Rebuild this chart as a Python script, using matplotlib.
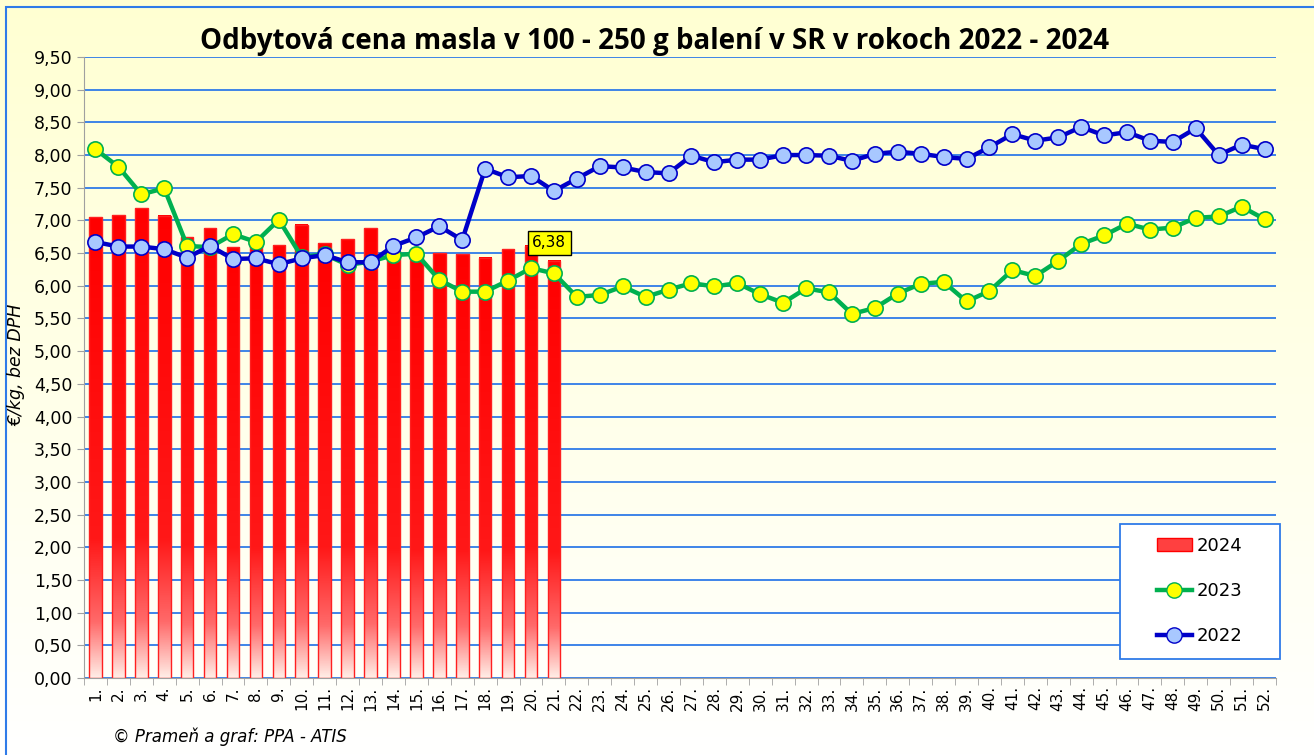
import matplotlib
matplotlib.use("Agg")
import matplotlib.pyplot as plt
import numpy as np
from matplotlib.colors import LinearSegmentedColormap
from matplotlib.patches import Rectangle
from matplotlib.lines import Line2D

weeks = list(range(1, 53))
week_labels = [f"{w}." for w in weeks]

y2024 = [7.05, 7.08, 7.19, 7.07, 6.74, 6.88, 6.59, 6.62, 6.62, 6.93,
         6.65, 6.71, 6.88, 6.53, 6.50, 6.50, 6.48, 6.43, 6.56, 6.61, 6.38]

y2023 = [8.09, 7.82, 7.40, 7.49, 6.61, 6.59, 6.79, 6.67, 7.01, 6.44,
         6.48, 6.32, 6.37, 6.47, 6.49, 6.09, 5.91, 5.91, 6.08, 6.27,
         6.19, 5.83, 5.86, 5.99, 5.83, 5.94, 6.04, 5.99, 6.04, 5.87,
         5.74, 5.96, 5.90, 5.57, 5.66, 5.88, 6.03, 6.06, 5.76, 5.92,
         6.24, 6.15, 6.38, 6.64, 6.77, 6.95, 6.86, 6.89, 7.04, 7.06,
         7.21, 7.02]

y2022 = [6.67, 6.60, 6.60, 6.56, 6.43, 6.61, 6.41, 6.42, 6.33, 6.42,
         6.47, 6.36, 6.36, 6.61, 6.74, 6.91, 6.70, 7.79, 7.66, 7.68,
         7.45, 7.64, 7.83, 7.81, 7.74, 7.72, 7.99, 7.89, 7.93, 7.93,
         8.00, 8.00, 7.99, 7.91, 8.02, 8.05, 8.02, 7.97, 7.94, 8.12,
         8.32, 8.22, 8.27, 8.43, 8.30, 8.35, 8.22, 8.20, 8.41, 8.00,
         8.16, 8.09]

W, H = 1314, 755
fig = plt.figure(figsize=(W / 100, H / 100), dpi=100)

# background gradient for the whole figure
bg = fig.add_axes([0, 0, 1, 1], zorder=-10)
grad = np.linspace(0, 1, 256).reshape(-1, 1)
bg_cmap = LinearSegmentedColormap.from_list("bg", ["#FFFFD2", "#FFFFE8", "#FFFFFF"])
bg.imshow(grad, aspect="auto", cmap=bg_cmap, extent=[0, 1, 0, 1], origin="upper")
bg.set_xlim(0, 1)
bg.set_ylim(0, 1)
bg.axis("off")
bg.add_patch(Rectangle((6 / W, -0.01), 1.0, 1 - 6.5 / H + 0.01, fill=False,
                       edgecolor="#2F7BE8", linewidth=1.5))

ax = fig.add_axes([84 / W, 1 - 678 / H, (1276 - 84) / W, (678 - 57) / H])
ax.patch.set_alpha(0)

# bars with vertical gradient
bar_w = 0.55
bar_cmap = LinearSegmentedColormap.from_list(
    "bar", [(0, "#FF0000"), (0.7, "#FF1818"), (0.88, "#FF6A6A"), (1, "#FFEDE6")])
for w, v in zip(weeks, y2024):
    ax.imshow(grad, aspect="auto", cmap=bar_cmap, origin="upper",
              extent=[w - bar_w / 2, w + bar_w / 2, 0, v], zorder=2)
    ax.add_patch(Rectangle((w - bar_w / 2, 0), bar_w, v, fill=False,
                           edgecolor="#FF2020", linewidth=1, zorder=2))

ax.plot(weeks, y2023, color="#00B050", linewidth=3.2, marker="o", markersize=11,
        markerfacecolor="#FFFF00", markeredgecolor="#00B050", markeredgewidth=1.2, zorder=3)
ax.plot(weeks, y2022, color="#0000C8", linewidth=3.2, marker="o", markersize=11,
        markerfacecolor="#A8C8FF", markeredgecolor="#0000C8", markeredgewidth=1.2, zorder=4)

ax.annotate("6,38", xy=(21, y2024[20]), xytext=(20.8, 6.66), fontsize=11,
            ha="center", va="center", zorder=6,
            bbox=dict(boxstyle="square,pad=0.3", facecolor="#FFFF00", edgecolor="#000000", linewidth=1))

ax.set_xlim(0.5, 52.5)
ax.set_ylim(0, 9.5)
yt = np.arange(0, 9.51, 0.5)
ax.set_yticks(yt)
ax.set_yticklabels([f"{v:.2f}".replace(".", ",") for v in yt], fontsize=12.5)
ax.yaxis.grid(True, color="#2F7BE8", linewidth=1.3, zorder=0)
ax.set_axisbelow(True)
ax.set_xticks(weeks)
ax.set_xticklabels(week_labels, rotation=90, fontsize=11)
ax.set_xticks(np.arange(0.5, 53, 1), minor=True)
ax.tick_params(axis="x", which="major", length=0, pad=6)
ax.tick_params(axis="x", which="minor", length=5, color="#A0A0A0")
ax.tick_params(axis="y", length=5, color="#A0A0A0")
for s in ["top", "right"]:
    ax.spines[s].set_visible(False)
ax.spines["left"].set_color("#A0A0A0")
ax.spines["bottom"].set_color("#A0A0A0")

fig.text(0.5 * (197 + 1112) / W, 1 - 41 / H,
         "Odbytová cena masla v 100 - 250 g balení v SR v rokoch 2022 - 2024",
         ha="center", va="center", fontsize=20, fontweight="bold", family="Open Sans")
fig.text(16 / W, 1 - 365 / H, "€/kg, bez DPH", rotation=90, ha="center", va="center",
         fontsize=12.5, style="italic")
fig.text(113 / W, 1 - 737 / H, "© Prameň a graf: PPA - ATIS", ha="left", va="center",
         fontsize=12, style="italic")

# legend box, drawn above the gridlines
ax.add_patch(Rectangle((1120 / W, 1 - 659 / H), 160 / W, 135 / H, facecolor="white",
                       edgecolor="#2F7BE8", linewidth=1.3, zorder=8,
                       transform=fig.transFigure, clip_on=False))

handles = [
    Rectangle((0, 0), 1, 1, facecolor="#FF4040", edgecolor="#FF0000"),
    Line2D([], [], color="#00B050", linewidth=3.2, marker="o", markersize=11,
           markerfacecolor="#FFFF00", markeredgecolor="#00B050"),
    Line2D([], [], color="#0000C8", linewidth=3.2, marker="o", markersize=11,
           markerfacecolor="#A8C8FF", markeredgecolor="#0000C8"),
]
leg = ax.legend(handles, ["2024", "2023", "2022"], loc="center",
                bbox_to_anchor=(1200 / W, 1 - 591 / H), bbox_transform=fig.transFigure,
                fontsize=13, frameon=False, labelspacing=1.5,
                borderpad=0, handlelength=1.9, handletextpad=0.3, borderaxespad=0)
leg.set_zorder(10)

fig.savefig("out.png", dpi=100)
